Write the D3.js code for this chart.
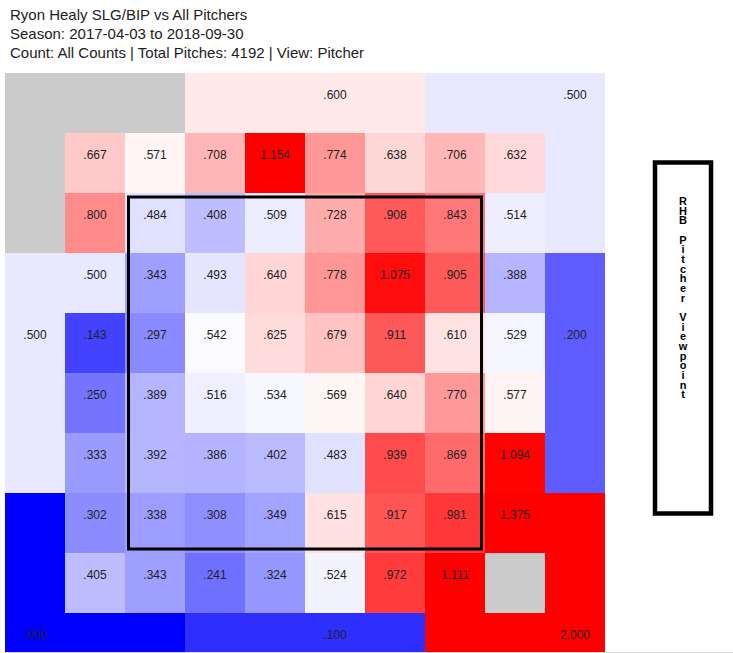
<!DOCTYPE html>
<html>
<head>
<script src="https://cdn.jsdelivr.net/npm/d3@7"></script>
<style>
	body { margin: 0; background: #fff; }
	text { font-family: Arial, "Liberation Sans", sans-serif; fill: #222; }
	.title { font-size: 15px; }
	.val { font-size: 12px; text-anchor: middle; }
	.side { font-size: 11px; font-weight: bold; fill: #000;
		writing-mode: vertical-rl; text-orientation: upright; }
</style>
</head>
<body>
<script>

var width = 733,
	height = 653;

var titleLines = [
	"Ryon Healy SLG/BIP vs All Pitchers",
	"Season: 2017-04-03 to 2018-09-30",
	"Count: All Counts | Total Pitches: 4192 | View: Pitcher"
];

// inner 8x8 zones, top row first (pitcher view), null = no data
var innerValues = [
	[0.667, 0.571, 0.708, 1.154, 0.774, 0.638, 0.706, 0.632],
	[0.800, 0.484, 0.408, 0.509, 0.728, 0.908, 0.843, 0.514],
	[0.500, 0.343, 0.493, 0.640, 0.778, 1.075, 0.905, 0.388],
	[0.143, 0.297, 0.542, 0.625, 0.679, 0.911, 0.610, 0.529],
	[0.250, 0.389, 0.516, 0.534, 0.569, 0.640, 0.770, 0.577],
	[0.333, 0.392, 0.386, 0.402, 0.483, 0.939, 0.869, 1.094],
	[0.302, 0.338, 0.308, 0.349, 0.615, 0.917, 0.981, 1.375],
	[0.405, 0.343, 0.241, 0.324, 0.524, 0.972, 1.111, null]
];

// outer zones: value and the [col,row] cells of the 10x10 ring they cover
var outerValues = [null, 0.600, 0.500, 0.500, 0.200, 0.000, 0.100, 2.000];
var outerCells = [
	[[0,0],[1,0],[2,0],[0,1],[0,2]],
	[[3,0],[4,0],[5,0],[6,0]],
	[[7,0],[8,0],[9,0],[9,1],[9,2]],
	[[0,3],[0,4],[0,5],[0,6]],
	[[9,3],[9,4],[9,5],[9,6]],
	[[0,7],[0,8],[0,9],[1,9],[2,9]],
	[[3,9],[4,9],[5,9],[6,9]],
	[[7,9],[8,9],[9,9],[9,7],[9,8]]
];
// cell that carries each outer label
var outerLabelCell = [null, [5,0], [9,0], [0,4], [9,4], [0,9], [5,9], [9,9]];

var sideLabel = "RHB Pitcher Viewpoint";

var idx = d3.range(10);
var x = d3.scaleBand().domain(idx).range([5, 605]);
var y = d3.scaleBand().domain(idx).range([73, 673]);

var color = d3.scaleLinear()
	.domain([0, 0.55, 1.1])
	.range(["#0000ff", "#ffffff", "#ff0000"])
	.clamp(true);

function fill(v) { return v == null ? "#cbcbcb" : color(v); }
function fmt(v) { return d3.format(".3f")(v).replace(/^0/, ""); }

var svg = d3.select("body").append("svg")
	.attr("width", width)
	.attr("height", height);

svg.selectAll("text.title")
	.data(titleLines)
  .enter().append("text")
	.attr("class", "title")
	.attr("x", 10)
	.attr("y", function(d, i) { return 20 + i * 19; })
	.text(function(d) { return d; });

// flatten cells
var cells = [];
outerCells.forEach(function(list, z) {
	list.forEach(function(c) { cells.push({ c: c[0], r: c[1], v: outerValues[z] }); });
});
innerValues.forEach(function(row, r) {
	row.forEach(function(v, c) { cells.push({ c: c + 1, r: r + 1, v: v, label: v != null }); });
});

var grid = svg.append("g");

grid.selectAll("rect")
	.data(cells)
  .enter().append("rect")
	.attr("x", function(d) { return x(d.c); })
	.attr("y", function(d) { return y(d.r); })
	.attr("width", x.bandwidth())
	.attr("height", y.bandwidth())
	.attr("fill", function(d) { return fill(d.v); });

var labels = cells.filter(function(d) { return d.label; });
outerLabelCell.forEach(function(c, z) {
	if (c && outerValues[z] != null) labels.push({ c: c[0], r: c[1], v: outerValues[z] });
});

grid.selectAll("text")
	.data(labels)
  .enter().append("text")
	.attr("class", "val")
	.attr("x", function(d) { return x(d.c) + x.bandwidth() / 2; })
	.attr("y", function(d) { return y(d.r) + 26; })
	.text(function(d) { return fmt(d.v); });

// strike zone
svg.append("rect")
	.attr("x", x(2) + 3.5)
	.attr("y", y(2) + 4)
	.attr("width", x(8) - x(2) - 7)
	.attr("height", y(8) - y(2) - 8)
	.attr("fill", "none")
	.attr("stroke", "#000")
	.attr("stroke-width", 3);

// bottom edge line
svg.append("line")
	.attr("x1", 5).attr("x2", width)
	.attr("y1", 652.5).attr("y2", 652.5)
	.attr("stroke", "#d8d8d8");

// side box
svg.append("rect")
	.attr("x", 655)
	.attr("y", 162.5)
	.attr("width", 56)
	.attr("height", 351)
	.attr("fill", "#fff")
	.attr("stroke", "#000")
	.attr("stroke-width", 4.5);

var side = svg.append("text")
	.attr("class", "side")
	.attr("x", 683)
	.attr("y", 195)
	.text(sideLabel);

// squeeze the upright letters to roughly 9.7px per character
var n = sideLabel.length;
var natural = side.node().getComputedTextLength();
side.style("letter-spacing", ((9.67 * n - natural) / n) + "px");

</script>
</body>
</html>
